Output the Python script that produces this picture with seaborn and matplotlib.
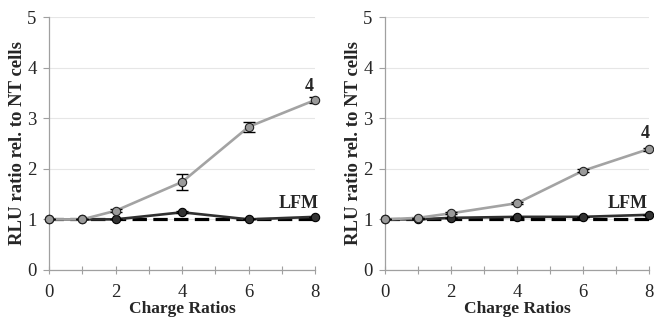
import matplotlib
matplotlib.use("Agg")
import matplotlib.pyplot as plt
import seaborn as sns
import pandas as pd
import numpy as np

sns.set_theme(style="white")
plt.rcParams['font.family'] = ['Liberation Serif', 'DejaVu Serif']

charge = [0, 1, 2, 4, 6, 8]
left_4 = [1.00, 1.00, 1.17, 1.74, 2.83, 3.36]
left_4_err = [0.0, 0.0, 0.03, 0.15, 0.10, 0.06]
left_lfm = [1.00, 1.00, 1.00, 1.14, 1.00, 1.05]
left_lfm_err = [0.0, 0.0, 0.0, 0.02, 0.0, 0.0]

right_4 = [1.00, 1.03, 1.12, 1.32, 1.96, 2.39]
right_4_err = [0.0, 0.0, 0.02, 0.02, 0.03, 0.03]
right_lfm = [1.00, 1.00, 1.03, 1.05, 1.05, 1.09]
right_lfm_err = [0.0, 0.0, 0.0, 0.0, 0.0, 0.0]

baseline = [1.0, 1.0]
baseline_x = [0, 8]

xticks = [0, 2, 4, 6, 8]
yticks = [0, 1, 2, 3, 4, 5]
xlabel = "Charge Ratios"
ylabel = "RLU ratio rel. to NT cells"

fig = plt.figure(figsize=(6.54, 3.21), dpi=100)
ax1 = fig.add_axes([0.075, 0.159, 0.407, 0.788])
ax2 = fig.add_axes([0.589, 0.159, 0.403, 0.788])

GRAY = "#a0a0a0"

def draw(ax, y4, e4, ylfm, elfm, lab4, lablfm):
    df = pd.DataFrame({"x": charge, "y4": y4, "ylfm": ylfm})
    ax.plot(baseline_x, baseline, color="black", lw=2.3, dashes=(4.5, 2), zorder=2)
    sns.lineplot(data=df, x="x", y="ylfm", ax=ax, color="#303030", lw=1.9, zorder=3)
    sns.lineplot(data=df, x="x", y="y4", ax=ax, color="#a3a3a3", lw=1.9, zorder=3)
    ax.errorbar(charge, ylfm, yerr=elfm, fmt="none", ecolor="black", elinewidth=1, capsize=4, capthick=1, zorder=4)
    ax.errorbar(charge, y4, yerr=e4, fmt="none", ecolor="black", elinewidth=1, capsize=4, capthick=1, zorder=4)
    ax.scatter(charge, ylfm, s=36, color="#333333", edgecolor="black", linewidth=0.8, zorder=5, clip_on=False)
    ax.scatter(charge, y4, s=36, color="#9a9a9a", edgecolor="#222222", linewidth=0.8, zorder=6, clip_on=False)
    ax.text(lab4[0], lab4[1], "4", fontsize=13, fontweight="bold", ha="center", va="center")
    ax.text(lablfm[0], lablfm[1], "LFM", fontsize=13, fontweight="bold", ha="center", va="center")
    ax.set_xlim(0, 8)
    ax.set_ylim(0, 5)
    ax.set_xticks(range(0, 9))
    ax.set_xticklabels([str(v) if v in xticks else "" for v in range(0, 9)])
    ax.set_yticks(yticks)
    ax.set_yticklabels([str(v) for v in yticks])
    ax.yaxis.grid(True, color="#e6e6e6", lw=0.8)
    ax.set_axisbelow(True)
    for s in ["top", "right"]:
        ax.spines[s].set_visible(False)
    for s in ["left", "bottom"]:
        ax.spines[s].set_color(GRAY)
        ax.spines[s].set_linewidth(0.9)
    ax.tick_params(axis="x", direction="inout", length=6, width=0.8, color=GRAY, labelsize=13.5, pad=7, bottom=True)
    ax.tick_params(axis="y", direction="out", length=4, width=0.8, color=GRAY, labelsize=13.5, pad=5, left=True)
    ax.set_xlabel(xlabel, fontsize=12.5, fontweight="bold", labelpad=0)
    ax.set_ylabel(ylabel, fontsize=13.5, fontweight="bold", labelpad=1)

draw(ax1, left_4, left_4_err, left_lfm, left_lfm_err, (7.82, 3.62), (7.5, 1.32))
draw(ax2, right_4, right_4_err, right_lfm, right_lfm_err, (7.88, 2.70), (7.36, 1.32))

fig.savefig("out.png", dpi=100)
